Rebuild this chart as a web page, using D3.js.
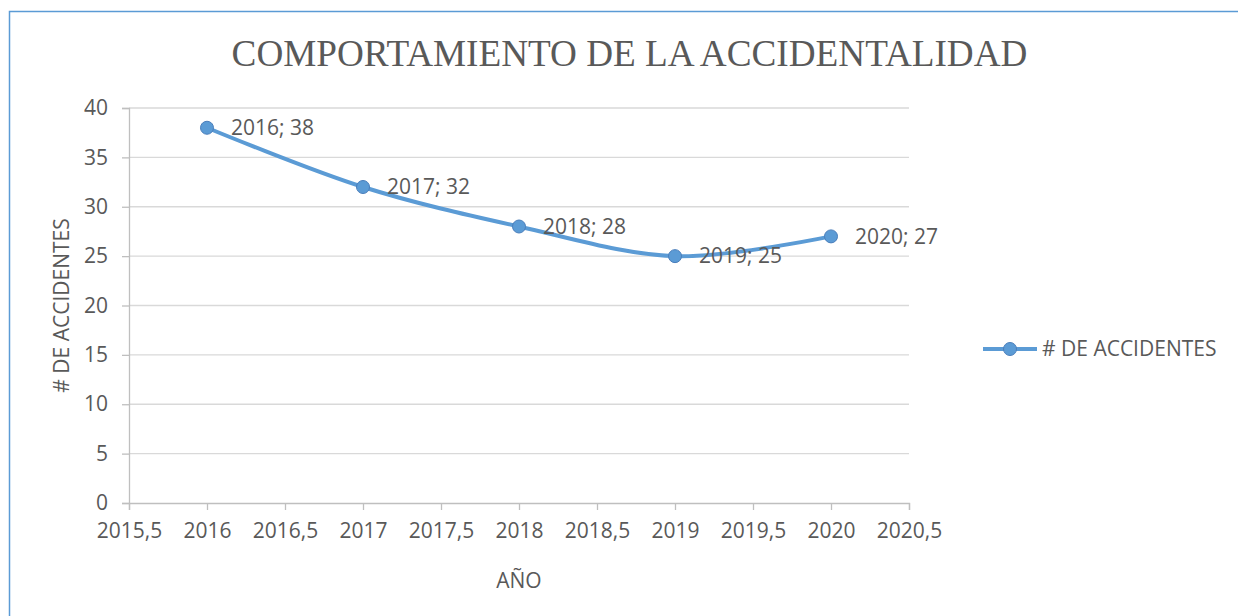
<!DOCTYPE html>
<html>
<head>
<meta charset="utf-8">
<script src="https://cdn.jsdelivr.net/npm/d3@7"></script>
<style>
  body { margin: 0; background: #fff; }
  svg { display: block; }
  text { font-family: "Open Sans", sans-serif; fill: #595959; }
</style>
</head>
<body>
<svg id="chart" width="1238" height="616"></svg>
<script>
// Data
const years = [2016, 2017, 2018, 2019, 2020];
const accidents = [38, 32, 28, 25, 27];
const xTicks = [2015.5, 2016, 2016.5, 2017, 2017.5, 2018, 2018.5, 2019, 2019.5, 2020, 2020.5];
const yTicks = [0, 5, 10, 15, 20, 25, 30, 35, 40];
const seriesName = "# DE ACCIDENTES";
const chartTitle = "COMPORTAMIENTO DE LA ACCIDENTALIDAD";
const xTitle = "AÑO";
const yTitle = "# DE ACCIDENTES";

const width = 1238;
const height = 616;
const plot = { left: 129, right: 909, top: 108, bottom: 503 };
const blue = "#5b9bd5";
const markerStroke = "#4a7ebb";

const svg = d3.select("#chart");

// chart border (only top and left visible in the picture)
svg.append("rect")
    .attr("x", 9.5).attr("y", 11.5)
    .attr("width", width + 50).attr("height", height + 50)
    .attr("fill", "#fff")
    .attr("stroke", blue)
    .attr("stroke-width", 1.5);

const locale = d3.formatLocale({ decimal: ",", thousands: ".", grouping: [3], currency: ["", ""] });
const fmt = d => (Number.isInteger(d) ? String(d) : locale.format(".1f")(d));

const xScale = d3.scaleLinear()
    .domain([xTicks[0], xTicks[xTicks.length - 1]])
    .range([plot.left, plot.right]);

const yScale = d3.scaleLinear()
    .domain([yTicks[0], yTicks[yTicks.length - 1]])
    .range([plot.bottom, plot.top]);

// gridlines
svg.append("g")
    .selectAll("line")
    .data(yTicks.slice(1))
    .enter()
    .append("line")
    .attr("x1", plot.left)
    .attr("x2", plot.right)
    .attr("y1", d => yScale(d))
    .attr("y2", d => yScale(d))
    .attr("stroke", "#d9d9d9")
    .attr("stroke-width", 1.3);

// x axis
const xAxis = svg.append("g")
    .attr("transform", "translate(0," + plot.bottom + ")")
    .call(d3.axisBottom(xScale).tickValues(xTicks).tickFormat(fmt).tickSize(7).tickPadding(13));

// y axis
const yAxis = svg.append("g")
    .attr("transform", "translate(" + plot.left + ",0)")
    .call(d3.axisLeft(yScale).tickValues(yTicks).tickSize(7).tickPadding(14));

[xAxis, yAxis].forEach(ax => {
    ax.selectAll("path, line").attr("stroke", "#bfbfbf").attr("stroke-width", 1.3);
    ax.selectAll("text")
        .attr("font-family", "Open Sans, sans-serif")
        .attr("font-size", 21)
        .attr("fill", "#595959");
});

// line
const points = years.map((y, i) => ({ year: y, value: accidents[i] }));

const line = d3.line()
    .x(d => xScale(d.year))
    .y(d => yScale(d.value))
    .curve(d3.curveCatmullRom.alpha(0.5));

svg.append("path")
    .datum(points)
    .attr("d", line)
    .attr("fill", "none")
    .attr("stroke", blue)
    .attr("stroke-width", 4)
    .attr("stroke-linecap", "round");

svg.append("g")
    .selectAll("circle")
    .data(points)
    .enter()
    .append("circle")
    .attr("cx", d => xScale(d.year))
    .attr("cy", d => yScale(d.value))
    .attr("r", 6.5)
    .attr("fill", blue)
    .attr("stroke", markerStroke)
    .attr("stroke-width", 1);

// data labels
svg.append("g")
    .selectAll("text")
    .data(points)
    .enter()
    .append("text")
    .attr("x", d => xScale(d.year) + 24)
    .attr("y", d => yScale(d.value))
    .attr("dy", "0.35em")
    .attr("font-size", 21)
    .attr("fill", "#404040")
    .text(d => d.year + "; " + d.value);

// title
svg.append("text")
    .attr("x", 629.5)
    .attr("y", 66)
    .attr("text-anchor", "middle")
    .style("font-family", "'Liberation Serif', 'Times New Roman', serif")
    .attr("font-size", 37.2)
    .text(chartTitle);

// axis titles
svg.append("text")
    .attr("x", (plot.left + plot.right) / 2)
    .attr("y", 588)
    .attr("text-anchor", "middle")
    .attr("font-size", 21)
    .text(xTitle);

svg.append("text")
    .attr("transform", "translate(69," + (plot.top + plot.bottom) / 2 + ") rotate(-90)")
    .attr("text-anchor", "middle")
    .attr("font-size", 21)
    .text(yTitle);

// legend
const legend = svg.append("g").attr("transform", "translate(983,349)");
legend.append("line")
    .attr("x1", 0).attr("x2", 54)
    .attr("stroke", blue).attr("stroke-width", 4);
legend.append("circle")
    .attr("cx", 27).attr("r", 6.5)
    .attr("fill", blue).attr("stroke", markerStroke).attr("stroke-width", 1);
legend.append("text")
    .attr("x", 59)
    .attr("dy", "0.35em")
    .attr("font-size", 21)
    .text(seriesName);
</script>
</body>
</html>
